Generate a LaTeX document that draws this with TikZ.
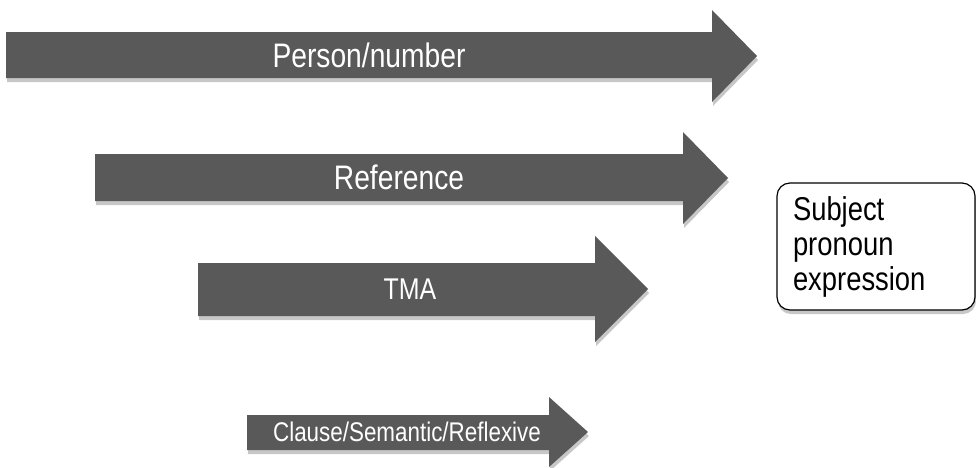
\documentclass[tikz,border=0pt]{standalone}
\usepackage{fontspec}
\setmainfont{Liberation Sans}
\newfontfamily\narrowsans[FakeStretch=0.83]{Liberation Sans}
\usetikzlibrary{shadows}

\definecolor{arrowgray}{HTML}{595959}

\tikzset{
  blockarrow/.style={fill=arrowgray,
    drop shadow={shadow xshift=1pt,shadow yshift=-4pt,opacity=0.22,fill=black}},
  arrowlabel/.style={text=white,inner sep=0pt},
  subjectbox/.style={draw,line width=1.2pt,rounded corners=13pt,fill=white,
    drop shadow={shadow xshift=1pt,shadow yshift=-4pt,opacity=0.22,fill=black},
    align=left,text width=166pt,inner xsep=16pt,
    minimum width=198pt,minimum height=127pt,
    font=\narrowsans\fontsize{33}{35}\selectfont}
}

\begin{document}
\begin{tikzpicture}[x=1pt,y=-1pt]
\useasboundingbox (0,0) rectangle (976,467);

% the four block arrows
\fill [blockarrow] (6,32) -- (712,32) -- (712,10) -- (757,56)
    -- (712,102) -- (712,78) -- (6,78) -- cycle;
\fill [blockarrow] (95,154) -- (683,154) -- (683,132) -- (728,178)
    -- (683,224) -- (683,201) -- (95,201) -- cycle;
\fill [blockarrow] (198,263) -- (595,263) -- (595,236) -- (648,289)
    -- (595,342) -- (595,316) -- (198,316) -- cycle;
\fill [blockarrow] (247,415) -- (549,415) -- (549,397) -- (588,432)
    -- (549,467) -- (549,450) -- (247,450) -- cycle;

\node [arrowlabel,font=\narrowsans\fontsize{34}{38}\selectfont]
    (person)    at (369,55)  {Person/number};
\node [arrowlabel,font=\narrowsans\fontsize{34}{38}\selectfont]
    (reference) at (399,177) {Reference};
\node [arrowlabel,font=\narrowsans\fontsize{30}{34}\selectfont]
    (tma)       at (410,289) {TMA};
\node [arrowlabel,font=\narrowsans\fontsize{27}{31}\selectfont]
    (clause)    at (407,432) {Clause/Semantic/Reflexive};

% the outcome
\node [subjectbox] (subject) at (876,246.5) {Subject\\ pronoun\\ expression};
\end{tikzpicture}
\end{document}
